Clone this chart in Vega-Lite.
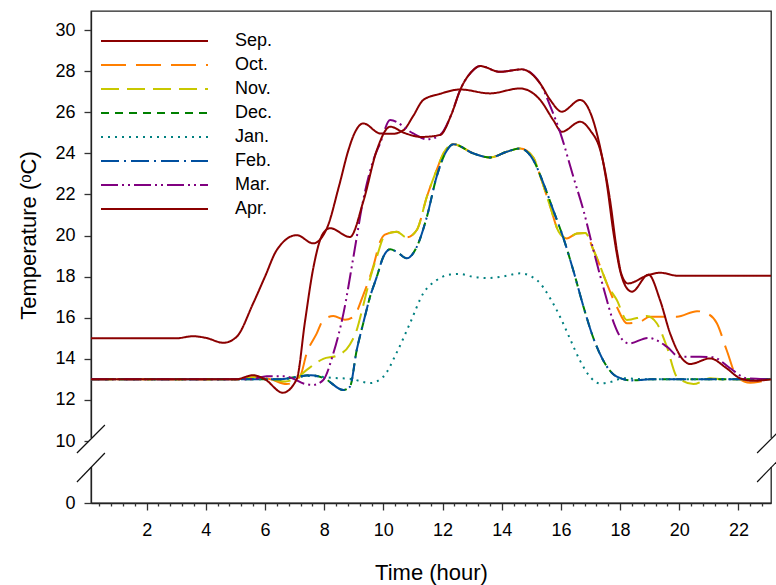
{
"$schema":"https://vega.github.io/schema/vega-lite/v6.json",
"width":680,"height":492,
"autosize":{"type":"none"},
"padding":{"left":91,"top":11,"right":5,"bottom":82},
"config":{
 "view":{"stroke":"#222","strokeWidth":1.3},
 "font":"Liberation Sans",
 "axis":{"domainColor":"#222","domainWidth":1.3,"tickColor":"#333","tickWidth":1.3,"labelColor":"#000","labelFont":"Liberation Sans","titleFont":"Liberation Sans","titleFontWeight":"normal","titleColor":"#000","grid":false},
 "legend":{"orient":"none","legendX":9,"legendY":18,"clipHeight":24,"symbolType":"stroke","symbolSize":11449,"symbolStrokeWidth":2,"labelFontSize":18,"labelFont":"Liberation Sans","labelColor":"#000","labelOffset":26,"padding":0,"rowPadding":0,"title":null}
},
"data":{"values":[
{"m":"Sep.","h":0.12,"t":15},{"m":"Sep.","h":3,"t":15},{"m":"Sep.","h":3.57,"t":15.1},{"m":"Sep.","h":4.0,"t":15.02},{"m":"Sep.","h":4.6,"t":14.78},{"m":"Sep.","h":5.04,"t":15.07},{"m":"Sep.","h":5.6,"t":16.7},{"m":"Sep.","h":6.0,"t":18.0},{"m":"Sep.","h":6.4,"t":19.3},{"m":"Sep.","h":7.07,"t":20.02},{"m":"Sep.","h":7.63,"t":19.62},{"m":"Sep.","h":8.09,"t":20.35},{"m":"Sep.","h":8.5,"t":22.4},{"m":"Sep.","h":8.82,"t":24.16},{"m":"Sep.","h":9.0,"t":24.9},{"m":"Sep.","h":9.32,"t":25.46},{"m":"Sep.","h":9.89,"t":24.97},{"m":"Sep.","h":10.3,"t":24.95},{"m":"Sep.","h":10.68,"t":25.13},{"m":"Sep.","h":11.0,"t":25.8},{"m":"Sep.","h":11.35,"t":26.6},{"m":"Sep.","h":11.92,"t":26.9},{"m":"Sep.","h":12.6,"t":27.11},{"m":"Sep.","h":13.6,"t":26.92},{"m":"Sep.","h":14.62,"t":27.16},{"m":"Sep.","h":15.3,"t":26.6},{"m":"Sep.","h":15.75,"t":25.6},{"m":"Sep.","h":16.03,"t":25.05},{"m":"Sep.","h":16.65,"t":25.54},{"m":"Sep.","h":17.0,"t":25.1},{"m":"Sep.","h":17.33,"t":24.16},{"m":"Sep.","h":17.66,"t":21.73},{"m":"Sep.","h":17.89,"t":19.29},{"m":"Sep.","h":18.05,"t":18.1},{"m":"Sep.","h":18.26,"t":17.67},{"m":"Sep.","h":18.96,"t":18.08},{"m":"Sep.","h":19.35,"t":18.19},{"m":"Sep.","h":19.97,"t":18.04},{"m":"Sep.","h":23.1,"t":18.04},
{"m":"Oct.","h":0.12,"t":13},{"m":"Oct.","h":5.0,"t":13},{"m":"Oct.","h":5.7,"t":13.12},{"m":"Oct.","h":6.2,"t":13.0},{"m":"Oct.","h":6.73,"t":12.77},{"m":"Oct.","h":7.18,"t":13.13},{"m":"Oct.","h":7.41,"t":14.27},{"m":"Oct.","h":7.75,"t":15.24},{"m":"Oct.","h":7.97,"t":15.89},{"m":"Oct.","h":8.31,"t":16.08},{"m":"Oct.","h":8.7,"t":15.9},{"m":"Oct.","h":8.99,"t":16.05},{"m":"Oct.","h":9.32,"t":17.1},{"m":"Oct.","h":9.66,"t":18.5},{"m":"Oct.","h":9.89,"t":19.7},{"m":"Oct.","h":10.05,"t":20.05},{"m":"Oct.","h":10.45,"t":20.19},{"m":"Oct.","h":10.79,"t":19.91},{"m":"Oct.","h":11.13,"t":20.27},{"m":"Oct.","h":11.47,"t":21.89},{"m":"Oct.","h":11.8,"t":23.19},{"m":"Oct.","h":12.03,"t":24.0},{"m":"Oct.","h":12.37,"t":24.45},{"m":"Oct.","h":13.04,"t":24.0},{"m":"Oct.","h":13.6,"t":23.8},{"m":"Oct.","h":14.17,"t":24.08},{"m":"Oct.","h":14.62,"t":24.24},{"m":"Oct.","h":15.07,"t":23.8},{"m":"Oct.","h":15.3,"t":22.9},{"m":"Oct.","h":15.64,"t":21.4},{"m":"Oct.","h":15.92,"t":20.2},{"m":"Oct.","h":16.2,"t":19.86},{"m":"Oct.","h":16.54,"t":20.1},{"m":"Oct.","h":16.82,"t":20.13},{"m":"Oct.","h":17.1,"t":19.3},{"m":"Oct.","h":17.33,"t":18.5},{"m":"Oct.","h":17.55,"t":17.67},{"m":"Oct.","h":17.9,"t":16.5},{"m":"Oct.","h":18.23,"t":15.73},{"m":"Oct.","h":18.68,"t":15.81},{"m":"Oct.","h":19.0,"t":16.05},{"m":"Oct.","h":19.92,"t":16.05},{"m":"Oct.","h":20.6,"t":16.32},{"m":"Oct.","h":20.93,"t":16.21},{"m":"Oct.","h":21.27,"t":15.73},{"m":"Oct.","h":21.6,"t":14.43},{"m":"Oct.","h":21.95,"t":13.13},{"m":"Oct.","h":22.4,"t":12.84},{"m":"Oct.","h":22.73,"t":12.89},{"m":"Oct.","h":23.1,"t":13.0},
{"m":"Nov.","h":0.12,"t":13},{"m":"Nov.","h":5.0,"t":13},{"m":"Nov.","h":5.7,"t":13.1},{"m":"Nov.","h":6.2,"t":13.0},{"m":"Nov.","h":6.7,"t":12.9},{"m":"Nov.","h":7.1,"t":13.1},{"m":"Nov.","h":7.41,"t":13.46},{"m":"Nov.","h":7.97,"t":14.0},{"m":"Nov.","h":8.42,"t":14.15},{"m":"Nov.","h":8.87,"t":14.7},{"m":"Nov.","h":9.1,"t":15.4},{"m":"Nov.","h":9.32,"t":16.6},{"m":"Nov.","h":9.55,"t":17.9},{"m":"Nov.","h":9.78,"t":18.97},{"m":"Nov.","h":10.05,"t":20.0},{"m":"Nov.","h":10.45,"t":20.19},{"m":"Nov.","h":10.79,"t":19.91},{"m":"Nov.","h":11.13,"t":20.27},{"m":"Nov.","h":11.47,"t":21.89},{"m":"Nov.","h":11.8,"t":23.19},{"m":"Nov.","h":12.03,"t":24.0},{"m":"Nov.","h":12.37,"t":24.45},{"m":"Nov.","h":13.04,"t":24.0},{"m":"Nov.","h":13.6,"t":23.8},{"m":"Nov.","h":14.17,"t":24.08},{"m":"Nov.","h":14.62,"t":24.24},{"m":"Nov.","h":15.07,"t":23.8},{"m":"Nov.","h":15.3,"t":22.9},{"m":"Nov.","h":15.64,"t":21.4},{"m":"Nov.","h":15.92,"t":20.2},{"m":"Nov.","h":16.2,"t":19.86},{"m":"Nov.","h":16.54,"t":20.1},{"m":"Nov.","h":16.82,"t":20.13},{"m":"Nov.","h":17.1,"t":19.3},{"m":"Nov.","h":17.33,"t":18.5},{"m":"Nov.","h":17.55,"t":17.67},{"m":"Nov.","h":17.89,"t":16.86},{"m":"Nov.","h":18.23,"t":15.89},{"m":"Nov.","h":18.9,"t":16.08},{"m":"Nov.","h":19.24,"t":15.73},{"m":"Nov.","h":19.58,"t":14.59},{"m":"Nov.","h":19.92,"t":13.13},{"m":"Nov.","h":20.48,"t":12.77},{"m":"Nov.","h":21.04,"t":13.05},{"m":"Nov.","h":21.5,"t":13.0},{"m":"Nov.","h":23.1,"t":13.0},
{"m":"Dec.","h":0.12,"t":13},{"m":"Dec.","h":6.5,"t":13},{"m":"Dec.","h":7.0,"t":13.1},{"m":"Dec.","h":7.55,"t":13.2},{"m":"Dec.","h":8.0,"t":13.05},{"m":"Dec.","h":8.65,"t":12.48},{"m":"Dec.","h":8.87,"t":12.64},{"m":"Dec.","h":9.1,"t":14.43},{"m":"Dec.","h":9.32,"t":15.73},{"m":"Dec.","h":9.55,"t":17.02},{"m":"Dec.","h":9.78,"t":18.0},{"m":"Dec.","h":10.0,"t":18.97},{"m":"Dec.","h":10.23,"t":19.33},{"m":"Dec.","h":10.45,"t":19.21},{"m":"Dec.","h":10.79,"t":18.89},{"m":"Dec.","h":11.13,"t":19.45},{"m":"Dec.","h":11.47,"t":20.91},{"m":"Dec.","h":11.8,"t":22.86},{"m":"Dec.","h":12.09,"t":24.0},{"m":"Dec.","h":12.37,"t":24.45},{"m":"Dec.","h":13.04,"t":24.0},{"m":"Dec.","h":13.6,"t":23.8},{"m":"Dec.","h":14.17,"t":24.08},{"m":"Dec.","h":14.62,"t":24.24},{"m":"Dec.","h":15.07,"t":23.67},{"m":"Dec.","h":15.41,"t":22.54},{"m":"Dec.","h":15.75,"t":21.2},{"m":"Dec.","h":16.08,"t":19.9},{"m":"Dec.","h":16.42,"t":18.3},{"m":"Dec.","h":16.75,"t":16.6},{"m":"Dec.","h":17.1,"t":15.0},{"m":"Dec.","h":17.4,"t":14.0},{"m":"Dec.","h":17.89,"t":13.13},{"m":"Dec.","h":18.4,"t":12.95},{"m":"Dec.","h":19.0,"t":13.0},{"m":"Dec.","h":23.1,"t":13.0},
{"m":"Jan.","h":0.12,"t":13},{"m":"Jan.","h":6.5,"t":13},{"m":"Jan.","h":7.0,"t":13.1},{"m":"Jan.","h":7.53,"t":13.16},{"m":"Jan.","h":8.3,"t":13.07},{"m":"Jan.","h":8.9,"t":13.02},{"m":"Jan.","h":9.55,"t":12.82},{"m":"Jan.","h":10.0,"t":13.13},{"m":"Jan.","h":10.45,"t":14.3},{"m":"Jan.","h":10.9,"t":15.73},{"m":"Jan.","h":11.35,"t":17.19},{"m":"Jan.","h":11.8,"t":17.83},{"m":"Jan.","h":12.25,"t":18.1},{"m":"Jan.","h":12.6,"t":18.13},{"m":"Jan.","h":13.0,"t":18.0},{"m":"Jan.","h":13.5,"t":17.93},{"m":"Jan.","h":14.0,"t":18.0},{"m":"Jan.","h":14.62,"t":18.16},{"m":"Jan.","h":15.19,"t":17.83},{"m":"Jan.","h":15.64,"t":16.94},{"m":"Jan.","h":15.97,"t":16.05},{"m":"Jan.","h":16.3,"t":15.0},{"m":"Jan.","h":16.65,"t":13.9},{"m":"Jan.","h":17.0,"t":13.1},{"m":"Jan.","h":17.33,"t":12.8},{"m":"Jan.","h":17.7,"t":12.88},{"m":"Jan.","h":18.1,"t":13.05},{"m":"Jan.","h":19.0,"t":13.0},{"m":"Jan.","h":23.1,"t":13.0},
{"m":"Feb.","h":0.12,"t":13},{"m":"Feb.","h":6.5,"t":13},{"m":"Feb.","h":7.0,"t":13.1},{"m":"Feb.","h":7.55,"t":13.2},{"m":"Feb.","h":8.0,"t":13.05},{"m":"Feb.","h":8.65,"t":12.48},{"m":"Feb.","h":8.87,"t":12.64},{"m":"Feb.","h":9.1,"t":14.43},{"m":"Feb.","h":9.32,"t":15.73},{"m":"Feb.","h":9.55,"t":17.02},{"m":"Feb.","h":9.78,"t":18.0},{"m":"Feb.","h":10.0,"t":18.97},{"m":"Feb.","h":10.23,"t":19.33},{"m":"Feb.","h":10.45,"t":19.21},{"m":"Feb.","h":10.79,"t":18.89},{"m":"Feb.","h":11.13,"t":19.45},{"m":"Feb.","h":11.47,"t":20.91},{"m":"Feb.","h":11.8,"t":22.86},{"m":"Feb.","h":12.09,"t":24.0},{"m":"Feb.","h":12.37,"t":24.45},{"m":"Feb.","h":13.04,"t":24.0},{"m":"Feb.","h":13.6,"t":23.8},{"m":"Feb.","h":14.17,"t":24.08},{"m":"Feb.","h":14.62,"t":24.24},{"m":"Feb.","h":15.07,"t":23.67},{"m":"Feb.","h":15.41,"t":22.54},{"m":"Feb.","h":15.75,"t":21.2},{"m":"Feb.","h":16.08,"t":19.9},{"m":"Feb.","h":16.42,"t":18.3},{"m":"Feb.","h":16.75,"t":16.6},{"m":"Feb.","h":17.1,"t":15.0},{"m":"Feb.","h":17.4,"t":14.0},{"m":"Feb.","h":17.89,"t":13.13},{"m":"Feb.","h":18.4,"t":12.95},{"m":"Feb.","h":19.0,"t":13.0},{"m":"Feb.","h":23.1,"t":13.0},
{"m":"Mar.","h":0.12,"t":13},{"m":"Mar.","h":5.5,"t":13},{"m":"Mar.","h":6.06,"t":13.15},{"m":"Mar.","h":6.68,"t":13.15},{"m":"Mar.","h":7.0,"t":13.0},{"m":"Mar.","h":7.3,"t":12.8},{"m":"Mar.","h":7.63,"t":12.73},{"m":"Mar.","h":7.97,"t":12.97},{"m":"Mar.","h":8.31,"t":14.27},{"m":"Mar.","h":8.65,"t":16.2},{"m":"Mar.","h":8.99,"t":18.97},{"m":"Mar.","h":9.32,"t":21.73},{"m":"Mar.","h":9.66,"t":23.67},{"m":"Mar.","h":9.89,"t":24.49},{"m":"Mar.","h":10.23,"t":25.62},{"m":"Mar.","h":11.01,"t":24.97},{"m":"Mar.","h":11.47,"t":24.68},{"m":"Mar.","h":11.92,"t":24.9},{"m":"Mar.","h":12.3,"t":25.9},{"m":"Mar.","h":12.6,"t":27.1},{"m":"Mar.","h":13.0,"t":28.0},{"m":"Mar.","h":13.27,"t":28.25},{"m":"Mar.","h":13.94,"t":27.97},{"m":"Mar.","h":14.68,"t":28.09},{"m":"Mar.","h":15.3,"t":27.4},{"m":"Mar.","h":15.64,"t":26.3},{"m":"Mar.","h":15.98,"t":25.0},{"m":"Mar.","h":16.42,"t":22.86},{"m":"Mar.","h":16.76,"t":21.24},{"m":"Mar.","h":17.1,"t":19.29},{"m":"Mar.","h":17.44,"t":17.45},{"m":"Mar.","h":17.8,"t":15.7},{"m":"Mar.","h":18.0,"t":15.08},{"m":"Mar.","h":18.3,"t":14.75},{"m":"Mar.","h":18.95,"t":15.02},{"m":"Mar.","h":19.58,"t":14.59},{"m":"Mar.","h":20.0,"t":14.1},{"m":"Mar.","h":20.7,"t":14.1},{"m":"Mar.","h":21.16,"t":14.07},{"m":"Mar.","h":21.72,"t":13.54},{"m":"Mar.","h":22.28,"t":13.05},{"m":"Mar.","h":23.1,"t":13.0},
{"m":"Apr.","h":0.12,"t":13},{"m":"Apr.","h":5.0,"t":13},{"m":"Apr.","h":5.6,"t":13.2},{"m":"Apr.","h":6.0,"t":13.0},{"m":"Apr.","h":6.6,"t":12.35},{"m":"Apr.","h":7.07,"t":13.0},{"m":"Apr.","h":7.35,"t":15.8},{"m":"Apr.","h":7.63,"t":18.4},{"m":"Apr.","h":7.96,"t":20.1},{"m":"Apr.","h":8.2,"t":20.36},{"m":"Apr.","h":8.87,"t":19.93},{"m":"Apr.","h":9.33,"t":21.7},{"m":"Apr.","h":9.78,"t":24.16},{"m":"Apr.","h":10.23,"t":25.3},{"m":"Apr.","h":10.7,"t":25.0},{"m":"Apr.","h":11.3,"t":24.8},{"m":"Apr.","h":11.92,"t":24.9},{"m":"Apr.","h":12.3,"t":25.9},{"m":"Apr.","h":12.6,"t":27.1},{"m":"Apr.","h":13.0,"t":28.0},{"m":"Apr.","h":13.27,"t":28.25},{"m":"Apr.","h":13.94,"t":27.97},{"m":"Apr.","h":14.68,"t":28.09},{"m":"Apr.","h":15.3,"t":27.4},{"m":"Apr.","h":15.64,"t":26.6},{"m":"Apr.","h":16.03,"t":26.03},{"m":"Apr.","h":16.65,"t":26.6},{"m":"Apr.","h":17.21,"t":25.0},{"m":"Apr.","h":17.55,"t":22.54},{"m":"Apr.","h":17.78,"t":20.1},{"m":"Apr.","h":18.0,"t":18.3},{"m":"Apr.","h":18.2,"t":17.5},{"m":"Apr.","h":18.4,"t":17.27},{"m":"Apr.","h":18.96,"t":18.1},{"m":"Apr.","h":19.35,"t":16.86},{"m":"Apr.","h":19.69,"t":15.24},{"m":"Apr.","h":20.14,"t":13.94},{"m":"Apr.","h":20.37,"t":13.75},{"m":"Apr.","h":21.04,"t":14.02},{"m":"Apr.","h":21.6,"t":13.54},{"m":"Apr.","h":22.06,"t":13.05},{"m":"Apr.","h":22.5,"t":12.93},{"m":"Apr.","h":23.1,"t":13.0}
]},
"layer":[
 {"mark":{"type":"line","interpolate":"monotone","strokeWidth":2},
  "encoding":{
   "x":{"field":"h","type":"quantitative","scale":{"domain":[0.12,23.1],"nice":false,"zero":false},
        "axis":{"orient":"bottom","values":[2,4,6,8,10,12,14,16,18,20,22],"tickSize":7,"labelFontSize":18,"labelPadding":11,"title":"Time (hour)","titleFontSize":22,"titleX":340,"titleY":69,"titleBaseline":"middle","titleAlign":"center"}},
   "y":{"field":"t","type":"quantitative","scale":{"domain":[0,10,30.93],"range":[492,430,0],"nice":false,"zero":false},
        "axis":{"orient":"left","values":[0,10,12,14,16,18,20,22,24,26,28,30],"tickSize":7,"labelFontSize":18,"labelPadding":9,"title":"Temperature (ᵒC)","titleFontSize":22,"titleX":-63,"titleY":224,"titleBaseline":"middle","titleAlign":"center","titleAngle":270}},
   "color":{"field":"m","type":"nominal","sort":null,"scale":{"domain":["Sep.","Oct.","Nov.","Dec.","Jan.","Feb.","Mar.","Apr."],"range":["#8B0000","#FF7F00","#C8C800","#008000","#008080","#004F9F","#800080","#8B0000"]}},
   "strokeDash":{"field":"m","type":"nominal","sort":null,"scale":{"domain":["Sep.","Oct.","Nov.","Dec.","Jan.","Feb.","Mar.","Apr."],"range":[[1,0],[25,10],[18,8],[8,6],[2,5],[18,5,2,5],[17,4,2,4,2,4],[1,0]]}}
  }},
 {"data":{"values":[{}]},"mark":{"type":"rule","color":"white","strokeWidth":5},
  "encoding":{"x":{"datum":0.12,"type":"quantitative","axis":{"orient":"bottom","values":[0.4,0.8,1.2,1.6,2.4,2.8,3.2,3.6,4.4,4.8,5.2,5.6,6.4,6.8,7.2,7.6,8.4,8.8,9.2,9.6,10.4,10.8,11.2,11.6,12.4,12.8,13.2,13.6,14.4,14.8,15.2,15.6,16.4,16.8,17.2,17.6,18.4,18.8,19.2,19.6,20.4,20.8,21.2,21.6,22.4,22.8],"tickSize":3,"labels":false,"domain":false,"title":null}},
   "y":{"datum":5.8,"type":"quantitative","axis":null},"y2":{"datum":10.15}}},
 {"data":{"values":[{}]},"mark":{"type":"rule","color":"white","strokeWidth":5},
  "encoding":{"x":{"datum":23.1,"type":"quantitative","axis":null},"y":{"datum":5.8,"type":"quantitative","axis":null},"y2":{"datum":10.15}}},
 {"data":{"values":[{}]},"mark":{"type":"rule","color":"#111","strokeWidth":1.2},
  "encoding":{"x":{"datum":-0.355,"type":"quantitative","axis":null},"x2":{"datum":0.59},"y":{"datum":8.06,"type":"quantitative","axis":null},"y2":{"datum":10.78}}},
 {"data":{"values":[{}]},"mark":{"type":"rule","color":"#111","strokeWidth":1.2},
  "encoding":{"x":{"datum":-0.355,"type":"quantitative","axis":null},"x2":{"datum":0.59},"y":{"datum":3.39,"type":"quantitative","axis":null},"y2":{"datum":8.06}}},
 {"data":{"values":[{}]},"mark":{"type":"rule","color":"#111","strokeWidth":1.2},
  "encoding":{"x":{"datum":22.63,"type":"quantitative","axis":null},"x2":{"datum":23.58},"y":{"datum":8.06,"type":"quantitative","axis":null},"y2":{"datum":10.78}}},
 {"data":{"values":[{}]},"mark":{"type":"rule","color":"#111","strokeWidth":1.2},
  "encoding":{"x":{"datum":22.63,"type":"quantitative","axis":null},"x2":{"datum":23.58},"y":{"datum":3.39,"type":"quantitative","axis":null},"y2":{"datum":8.06}}}
],
"resolve":{"axis":{"x":"independent","y":"independent"}}
}
